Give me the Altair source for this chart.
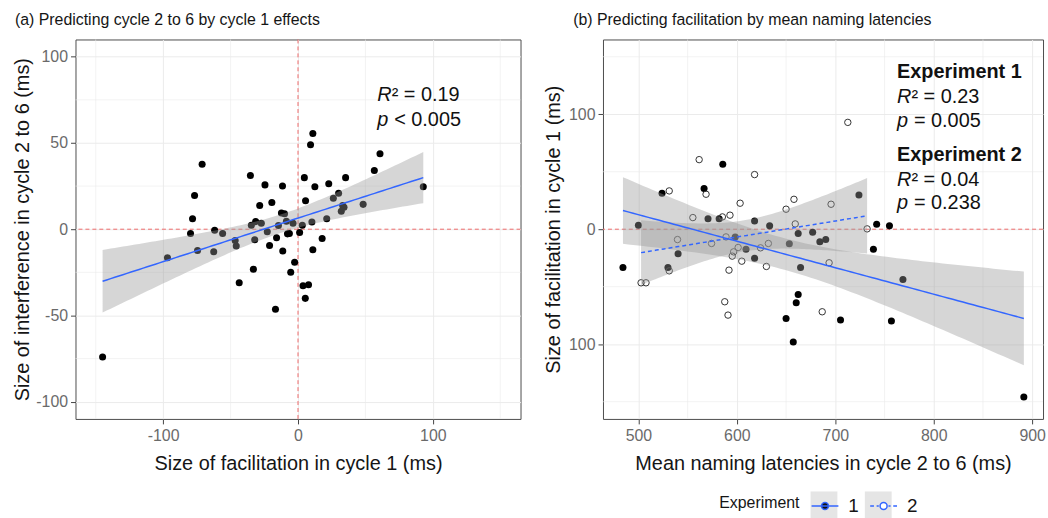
import altair as alt
import numpy as np
import pandas as pd

# ---------------- data ----------------
# Panel (a): facilitation in cycle 1 (x) vs interference in cycles 2-6 (y)
a_fac = [-144.9, -96.8, -79.7, -78.2, -76.7, -71.1, -74.5, -62.5, -61.8, -55.9,
         -46.6, -45.8, -43.6, -35.3, -34.6, -33.1, -32.1, -31.4, -28.4, -27.2,
         -24.5, -22.8, -21.1, -19.4, -16.7, -15.9, -14.5, -12.3, -11.5, -11.3,
         -10.0, -8.6, -7.8, -6.4, -5.4, -3.7, -2.5, 1.2, 3.2, 3.7,
         4.7, 5.4, 5.6, 7.8, 9.3, 10.3, 11.0, 11.0, 12.5, 17.9,
         21.3, 22.8, 26.2, 30.1, 32.1, 33.1, 34.1, 35.3, 48.3, 56.6,
         60.8, 92.9]
a_int = [-74.1, -16.5, -2.5, 6.1, 19.6, 37.6, -12.3, -13.1, -0.6, -2.5,
         -6.5, -9.8, -31.1, 31.1, 2.3, -23.2, -6.1, 4.4, 13.8, 3.5,
         25.7, -1.5, -9.4, 15.5, -46.4, -5.0, 2.1, 9.4, 25.1, -12.7,
         9.0, 4.6, -2.7, -2.5, -25.0, 3.5, -19.2, -1.9, 2.3, -32.8,
         29.9, -40.1, 16.5, -32.2, 48.9, 4.2, 55.5, -11.9, 24.6, -5.4,
         6.1, 26.3, 18.0, 20.9, 10.4, 13.8, 12.7, 29.9, 14.4, 34.0,
         43.8, 24.6]

# Panel (b): mean naming latency (x) vs facilitation in cycle 1 (y)
b1_lat = [484.3, 500.0, 524.0, 530.0, 540.3, 566.7, 570.7, 582.0, 585.7, 598.3,
          609.3, 618.0, 618.0, 633.3, 650.0, 653.3, 657.3, 660.3, 662.3, 662.3,
          664.7, 677.0, 684.3, 690.3, 705.3, 724.0, 738.7, 742.0, 755.0, 757.0,
          768.7, 891.5]
b1_fac = [-33.3, 3.5, 31.3, -33.3, -21.4, 35.3, 9.0, 9.0, 56.4, -6.7,
          -17.4, 7.2, -25.2, 2.9, -77.6, -12.7, -98.1, -64.0, -56.7, -3.8,
          -33.3, -2.6, -11.0, -9.0, -79.0, 29.8, -17.4, 4.3, 2.9, -79.9,
          -43.7, -145.9]
b2_lat = [502.7, 507.7, 531.3, 531.3, 539.7, 555.3, 561.7, 568.7, 574.3, 585.3,
          587.7, 589.0, 591.0, 592.0, 593.0, 595.3, 596.7, 601.3, 603.3, 605.0,
          618.0, 624.0, 630.0, 632.0, 650.0, 658.0, 659.3, 686.7, 693.7, 695.7,
          712.7, 732.3]
b2_fac = [-46.6, -46.6, 33.3, -36.2, -9.0, 10.1, 60.5, 30.4, -12.4, 10.7,
          -63.1, -6.7, -74.7, -35.6, 12.2, -23.4, -19.7, -15.9, 22.6, -27.8,
          47.5, -16.2, -32.4, -12.4, 17.4, 26.0, 4.6, -71.8, -29.2, 21.7,
          92.9, 0.3]

exp_levels = ["1", "2"]
key_levels = ["k1", "k2"]

a_xticks = [-100, 0, 100]
a_yticks = [-100, -50, 0, 50, 100]
a_xminor = [-150, -50, 50, 150]
a_yminor = [-75, -25, 25, 75]
b_xticks = [500, 600, 700, 800, 900]
b_yticks = [-100, 0, 100]
b_xminor = [550, 650, 750, 850]
b_yminor = [-150, -50, 50, 150]
ref_zero = [0]

# ---------------- styling ----------------
FONT = "Liberation Sans"
BLUE = "#3366FF"
RED = "#ee6a6a"
GRID = "#ebebeb"


def t975(df):
    z = 1.959964
    g1 = (z**3 + z) / 4
    g2 = (5 * z**5 + 16 * z**3 + 3 * z) / 96
    g3 = (3 * z**7 + 19 * z**5 + 17 * z**3 - 15 * z) / 384
    return z + g1 / df + g2 / df**2 + g3 / df**3


def lm_smooth(x, y, n=80):
    """Linear fit with 95% confidence band (as geom_smooth(method='lm'))."""
    x = np.asarray(x, float)
    y = np.asarray(y, float)
    X = np.column_stack([np.ones_like(x), x])
    beta, *_ = np.linalg.lstsq(X, y, rcond=None)
    resid = y - X @ beta
    dof = len(x) - 2
    s2 = resid @ resid / dof
    xtxi = np.linalg.inv(X.T @ X)
    gx = np.linspace(x.min(), x.max(), n)
    G = np.column_stack([np.ones_like(gx), gx])
    fit = G @ beta
    se = np.sqrt(np.einsum("ij,jk,ik->i", G, xtxi, G) * s2)
    t = t975(dof)
    return pd.DataFrame({"x": gx, "y": fit, "lo": fit - t * se, "hi": fit + t * se})


def neg_label():
    return "(datum.value < 0 ? '-' : '') + format(abs(datum.value), 'd')"


def txt(df, X, Y, **kw):
    base = dict(font=FONT, fontSize=20, align="left", baseline="middle", color="#111111")
    base.update(kw)
    return alt.Chart(df).mark_text(**base).encode(x=X(), y=Y(), text="t:N")


# ---------------- panel (a) ----------------
SXa = alt.Scale(domain=[-165, 165], nice=False, zero=False)
SYa = alt.Scale(domain=[-110, 110], nice=False, zero=False)
AXa = alt.Axis(values=a_xticks, labelExpr=neg_label(), titlePadding=10, labelPadding=4)
AYa = alt.Axis(values=a_yticks, labelExpr=neg_label(), titlePadding=3)
XT_a = "Size of facilitation in cycle 1 (ms)"
YT_a = "Size of interference in cycle 2 to 6 (ms)"


def Xa(f="x"):
    return alt.X(f, type="quantitative", scale=SXa, axis=AXa, title=XT_a)


def Ya(f="y"):
    return alt.Y(f, type="quantitative", scale=SYa, axis=AYa, title=YT_a)


a_pts = pd.DataFrame({"x": a_fac, "y": a_int})
a_fit = lm_smooth(a_fac, a_int)

a_minx = alt.Chart(pd.DataFrame({"x": a_xminor})).mark_rule(color=GRID, strokeWidth=0.6).encode(x=Xa())
a_miny = alt.Chart(pd.DataFrame({"y": a_yminor})).mark_rule(color=GRID, strokeWidth=0.6).encode(y=Ya())
a_refv = alt.Chart(pd.DataFrame({"x": ref_zero})).mark_rule(color=RED, strokeDash=[4, 3], strokeWidth=1).encode(x=Xa())
a_refh = alt.Chart(pd.DataFrame({"y": ref_zero})).mark_rule(color=RED, strokeDash=[4, 3], strokeWidth=1).encode(y=Ya())
a_points = alt.Chart(a_pts).mark_circle(color="#000000", size=50, opacity=1).encode(x=Xa(), y=Ya())
a_band = alt.Chart(a_fit).mark_area(color="#999999", opacity=0.4).encode(x=Xa(), y=Ya("lo"), y2="hi")
a_line = alt.Chart(a_fit).mark_line(color=BLUE, strokeWidth=1.5).encode(x=Xa(), y=Ya())

a_ann_x = 58.8
a_t1 = txt(pd.DataFrame({"x": [a_ann_x], "y": [78], "t": ["R"]}), Xa, Ya, fontStyle="italic")
a_t2 = txt(pd.DataFrame({"x": [a_ann_x], "y": [78], "t": ["² = 0.19"]}), Xa, Ya, dx=14.5)
a_t3 = txt(pd.DataFrame({"x": [a_ann_x], "y": [63.5], "t": ["p"]}), Xa, Ya, fontStyle="italic")
a_t4 = txt(pd.DataFrame({"x": [a_ann_x], "y": [63.5], "t": ["< 0.005"]}), Xa, Ya, dx=17)

left = alt.layer(a_minx, a_miny, a_refv, a_refh, a_points, a_band, a_line,
                 a_t1, a_t2, a_t3, a_t4).properties(
    width=448, height=382,
    title=alt.TitleParams("(a) Predicting cycle 2 to 6 by cycle 1 effects",
                          anchor="start", frame="group", dx=-61))

# ---------------- panel (b) ----------------
SXb = alt.Scale(domain=[464, 911], nice=False, zero=False)
SYb = alt.Scale(domain=[-165, 165], nice=False, zero=False)
AXb = alt.Axis(values=b_xticks, format="d", titlePadding=10, labelPadding=4)
AYb = alt.Axis(values=b_yticks, labelExpr="format(abs(datum.value), 'd')", titlePadding=5)
XT_b = "Mean naming latencies in cycle 2 to 6 (ms)"
YT_b = "Size of facilitation in cycle 1 (ms)"


def Xb(f="x"):
    return alt.X(f, type="quantitative", scale=SXb, axis=AXb, title=XT_b)


def Yb(f="y"):
    return alt.Y(f, type="quantitative", scale=SYb, axis=AYb, title=YT_b)


b1 = pd.DataFrame({"x": b1_lat, "y": b1_fac})
b2 = pd.DataFrame({"x": b2_lat, "y": b2_fac})
b1_fit = lm_smooth(b1_lat, b1_fac)
b2_fit = lm_smooth(b2_lat, b2_fac)

b_minx = alt.Chart(pd.DataFrame({"x": b_xminor})).mark_rule(color=GRID, strokeWidth=0.6).encode(x=Xb())
b_miny = alt.Chart(pd.DataFrame({"y": b_yminor})).mark_rule(color=GRID, strokeWidth=0.6).encode(y=Yb())
b_refh = alt.Chart(pd.DataFrame({"y": ref_zero})).mark_rule(color=RED, strokeDash=[4, 3], strokeWidth=1).encode(y=Yb())
b_p1 = alt.Chart(b1).mark_circle(color="#000000", size=50, opacity=1).encode(x=Xb(), y=Yb())
b_p2 = alt.Chart(b2).mark_point(shape="circle", filled=False, stroke="#333333", strokeWidth=1,
                               size=42, opacity=1).encode(x=Xb(), y=Yb())
b_band1 = alt.Chart(b1_fit).mark_area(color="#999999", opacity=0.4).encode(x=Xb(), y=Yb("lo"), y2="hi")
b_band2 = alt.Chart(b2_fit).mark_area(color="#999999", opacity=0.4).encode(x=Xb(), y=Yb("lo"), y2="hi")
b_line1 = alt.Chart(b1_fit).mark_line(color=BLUE, strokeWidth=1.5).encode(x=Xb(), y=Yb())
b_line2 = alt.Chart(b2_fit).mark_line(color=BLUE, strokeWidth=1.5, strokeDash=[4, 3]).encode(x=Xb(), y=Yb())

# legend (key symbols: line + point, drawn over light grey key boxes)
P1 = "M-1,0L1,0M0.26,0A0.26,0.26,0,1,1,-0.26,0A0.26,0.26,0,1,1,0.26,0Z"
P2 = ("M-1,0L-0.72,0M-0.52,0L-0.36,0M0.36,0L0.52,0M0.72,0L1,0"
      "M0.26,0A0.26,0.26,0,1,1,-0.26,0A0.26,0.26,0,1,1,0.26,0Z")
LEG_X, LEG_Y = 648, 455
TITLE_W = 81 + 11          # width of the "Experiment" title + its padding
LABEL_W = 10.6             # width of a one-digit label
leg_common = dict(orient="none", legendY=LEG_Y, direction="horizontal",
                  symbolSize=729, labelFontSize=19, labelFont=FONT, labelOffset=9,
                  labelColor="#151515")
LEG_BOX = alt.Legend(title=None, legendX=LEG_X + TITLE_W, symbolType="square",
                     symbolStrokeWidth=0, symbolFillColor="#e5e5e5",
                     labelExpr="''", columnPadding=8 + LABEL_W, **leg_common)
LEG = alt.Legend(title="Experiment", legendX=LEG_X, titleOrient="left",
                 titleFontSize=16, titleFontWeight="normal", titleFont=FONT,
                 titlePadding=11, titleColor="#151515", columnPadding=8,
                 symbolStrokeWidth=1.5, **leg_common)

b_keybox = alt.Chart(pd.DataFrame({"Key": key_levels})).transform_filter("false").mark_point(
    shape="square", filled=True, size=729, opacity=1, strokeWidth=0).encode(
    color=alt.Color("Key:N", scale=alt.Scale(domain=key_levels, range=["#e5e5e5", "#e5e5e5"]),
                    legend=LEG_BOX),
)
b_leg = alt.Chart(pd.DataFrame({"Experiment": exp_levels})).transform_filter("false").mark_point(
    filled=True, strokeWidth=1.5, size=729, opacity=1).encode(
    shape=alt.Shape("Experiment:N", scale=alt.Scale(domain=exp_levels, range=[P1, P2]), legend=LEG),
    fill=alt.Fill("Experiment:N", scale=alt.Scale(domain=exp_levels, range=["#111111", "#ffffff"]),
                  legend=LEG),
    stroke=alt.Stroke("Experiment:N", scale=alt.Scale(domain=exp_levels, range=[BLUE, BLUE]),
                      legend=LEG),
)

bx = 762.7
b_texts = [
    txt(pd.DataFrame({"x": [bx], "y": [136.6], "t": ["Experiment 1"]}), Xb, Yb, fontWeight="bold"),
    txt(pd.DataFrame({"x": [bx], "y": [114.9], "t": ["R"]}), Xb, Yb, fontStyle="italic"),
    txt(pd.DataFrame({"x": [bx], "y": [114.9], "t": ["² = 0.23"]}), Xb, Yb, dx=14.5),
    txt(pd.DataFrame({"x": [bx], "y": [93.8], "t": ["p"]}), Xb, Yb, fontStyle="italic"),
    txt(pd.DataFrame({"x": [bx], "y": [93.8], "t": ["= 0.005"]}), Xb, Yb, dx=17),
    txt(pd.DataFrame({"x": [bx], "y": [64.8], "t": ["Experiment 2"]}), Xb, Yb, fontWeight="bold"),
    txt(pd.DataFrame({"x": [bx], "y": [43.1], "t": ["R"]}), Xb, Yb, fontStyle="italic"),
    txt(pd.DataFrame({"x": [bx], "y": [43.1], "t": ["² = 0.04"]}), Xb, Yb, dx=14.5),
    txt(pd.DataFrame({"x": [bx], "y": [22.9], "t": ["p"]}), Xb, Yb, fontStyle="italic"),
    txt(pd.DataFrame({"x": [bx], "y": [22.9], "t": ["= 0.238"]}), Xb, Yb, dx=17),
]

right = alt.layer(b_keybox, b_leg, b_minx, b_miny, b_refh, b_p1, b_p2, b_band1, b_band2,
                  b_line1, b_line2, *b_texts).properties(
    width=443, height=382,
    title=alt.TitleParams("(b) Predicting facilitation by mean naming latencies",
                          anchor="start", frame="group", dx=-30))

chart = alt.hconcat(left, right, spacing=21).properties(
    padding={"left": 12, "top": 10, "right": 2, "bottom": 0},
    background="white",
).configure_view(stroke="#4d4d4d", strokeWidth=1).configure_axis(
    labelFont=FONT, titleFont=FONT, labelFontSize=16, titleFontSize=20,
    labelColor="#6a6a6a", titleColor="#151515", titleFontWeight="normal",
    tickColor="#444444", tickSize=5, labelPadding=3, domain=False,
    gridColor=GRID, gridWidth=1,
).configure_title(
    font=FONT, fontSize=16, fontWeight="normal", color="#151515", offset=11,
)

chart.save("out.html", embed_options={"renderer": "svg", "actions": False})
